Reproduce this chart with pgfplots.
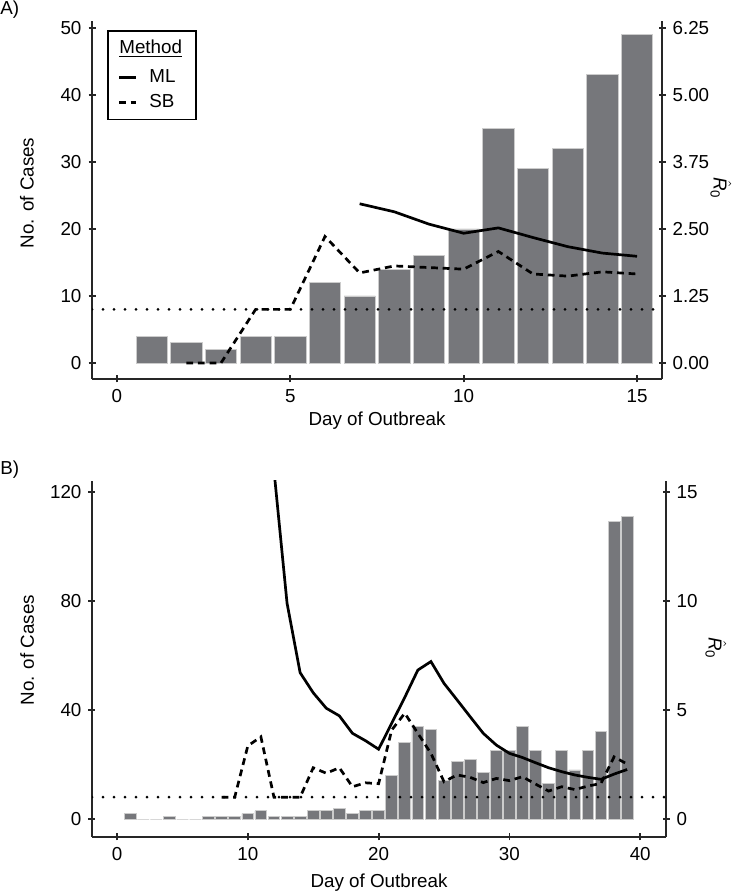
\documentclass[border=0pt]{standalone}
\usepackage{fontspec}
\setmainfont{Liberation Sans}
\usepackage{pgfplots}
\pgfplotsset{compat=1.18}
\definecolor{barg}{RGB}{118,119,123}

\pgfplotsset{
  base/.style={
    scale only axis,
    axis line style={line width=0.9pt, black!85},
    every outer x axis line/.append style={-},
    every outer y axis line/.append style={-},
    tick style={line width=0.9pt, black!85},
    tick align=outside,
    major tick length=3.5pt,
    /pgf/number format/assume math mode=true,
    tick label style={font=\fontsize{9.4}{11}\selectfont},
    label style={font=\fontsize{9.4}{11}\selectfont},
  },
  bars/.style={ybar, fill=barg, draw=white!80!black, line width=0.4pt},
  ml/.style={black, line width=1.35pt},
  sb/.style={black, line width=1.35pt, dash pattern=on 3.4pt off 2.4pt},
  refline/.style={black, line width=1.5pt, line cap=round, dash pattern=on 0pt off 5.5pt, forget plot},
}

\newcommand{\Rhat}{$\hat{\mbox{\itshape R}}_{\mbox{\fontsize{6.6}{7}\selectfont 0}}$}

\begin{document}
\begin{tikzpicture}[font=\fontsize{9.4}{11}\selectfont]
\useasboundingbox (0,0) rectangle (373.5pt,447pt);

\node[anchor=west, inner sep=0pt] at (0pt,442pt) {A)};
\node[anchor=west, inner sep=0pt] at (0pt,212pt) {B)};
% right-hand axis titles
\node[rotate=-90, inner sep=0pt] at (360.5pt,353pt) {\Rhat};
\node[rotate=-90, inner sep=0pt] at (358pt,123pt) {\Rhat};

% ---- panel A: cases
\begin{axis}[base, at={(46pt,257.5pt)}, anchor=south west, width=285pt, height=179pt,
  xmin=-0.72, xmax=15.72, ymin=-2.39, ymax=51.04,
  axis x line=bottom, axis y line=left, axis line style={-},
  xtick={0,5,10,15}, ytick={0,10,20,30,40,50},
  xlabel={Day of Outbreak}, ylabel={No. of Cases},
  xlabel style={at={(rel axis cs:0.5,-0.117)}, anchor=center},
  ylabel style={at={(rel axis cs:-0.114,0.52)}, anchor=center},
]
\addplot[bars, bar width=0.9] coordinates {
(1,4)(2,3)(3,2)(4,4)(5,4)(6,12)(7,10)(8,14)(9,16)(10,20)
(11,35)(12,29)(13,32)(14,43)(15,49)};
\end{axis}

% ---- panel A: R0
\begin{axis}[base, at={(46pt,257.5pt)}, anchor=south west, width=285pt, height=179pt,
  xmin=-0.72, xmax=15.72, ymin=-0.299, ymax=6.38,
  axis x line=none, axis y line=right, axis line style={-},
  ytick={0,1.25,2.5,3.75,5,6.25},
  yticklabel style={/pgf/number format/.cd, fixed, fixed zerofill, precision=2},
  legend style={at={(0.026,0.975)}, anchor=north west, draw=black, line width=0.85pt,
    font=\fontsize{9.4}{11}\selectfont, column sep=4pt, row sep=1.5pt,
    inner xsep=5pt, inner ysep=3pt,
    nodes={inner xsep=2pt, inner ysep=1.5pt, text depth=0.15em}},
  legend cell align=left,
  legend image code/.code={\draw[#1] (0pt,0pt) -- (8.5pt,0pt);},
]
\addlegendimage{empty legend}
\addlegendentry{\hspace*{-15pt}\raisebox{2pt}{\underline{Method}}}
\addplot[ml] coordinates {
(7,2.97)(8,2.82)(9,2.59)(10,2.42)(11,2.52)(12,2.34)(13,2.17)(14,2.05)(15,1.99)};
\addlegendentry{ML}
\addplot[sb] coordinates {
(2,0)(3,0)(4,1.0)(5,1.0)(6,2.36)(7,1.68)(8,1.81)(9,1.78)(10,1.75)
(11,2.08)(12,1.66)(13,1.62)(14,1.70)(15,1.66)};
\addlegendentry{SB}
\addplot[refline] coordinates {(-0.72,1)(15.72,1)};
\end{axis}

% ---- panel B: cases
\begin{axis}[base, at={(46pt,28.5pt)}, anchor=south west, width=287pt, height=178pt,
  xmin=-1.91, xmax=41.97, ymin=-6.6, ymax=124.0,
  axis x line=bottom, axis y line=left, axis line style={-},
  xtick={0,10,20,30,40}, ytick={0,40,80,120},
  xlabel={Day of Outbreak}, ylabel={No. of Cases},
  xlabel style={at={(rel axis cs:0.5,-0.129)}, anchor=center},
  ylabel style={at={(rel axis cs:-0.113,0.525)}, anchor=center},
]
\addplot[bars, bar width=0.9] coordinates {
(1,2)(2,0)(3,0)(4,1)(5,0)(6,0)(7,1)(8,1)(9,1)(10,2)
(11,3)(12,1)(13,1)(14,1)(15,3)(16,3)(17,4)(18,2)(19,3)(20,3)
(21,16)(22,28)(23,34)(24,33)(25,14)(26,21)(27,22)(28,17)(29,25)(30,25)
(31,34)(32,25)(33,13)(34,25)(35,18)(36,25)(37,32)(38,109)(39,111)};
\end{axis}

% ---- panel B: R0
\begin{axis}[base, at={(46pt,28.5pt)}, anchor=south west, width=287pt, height=178pt,
  xmin=-1.91, xmax=41.97, ymin=-0.825, ymax=15.5,
  axis x line=none, axis y line=right, axis line style={-},
  ytick={0,5,10,15},
]
\addplot[ml] coordinates {
(12,16.0)(13,9.9)(14,6.71)(15,5.79)(16,5.08)(17,4.73)(18,3.93)(19,3.59)(20,3.2)
(21,4.39)(22,5.58)(23,6.83)(24,7.22)(25,6.22)(26,5.46)(27,4.69)(28,3.93)(29,3.39)
(30,3.01)(31,2.82)(32,2.58)(33,2.35)(34,2.17)(35,2.02)(36,1.91)(37,1.82)(38,2.06)(39,2.27)};
\addplot[sb] coordinates {
(8,1.0)(9,1.0)(10,3.35)(11,3.77)(12,1.0)(13,1.0)(14,1.0)(15,2.35)(16,2.1)(17,2.35)
(18,1.48)(19,1.66)(20,1.62)(21,4.08)(22,4.85)(23,3.93)(24,3.01)(25,1.71)(26,2.02)
(27,1.91)(28,1.67)(29,1.86)(30,1.76)(31,1.94)(32,1.6)(33,1.28)(34,1.48)(35,1.35)
(36,1.51)(37,1.63)(38,2.85)(39,2.52)};
\addplot[refline] coordinates {(-1.91,1)(41.97,1)};
\end{axis}
\end{tikzpicture}
\end{document}
